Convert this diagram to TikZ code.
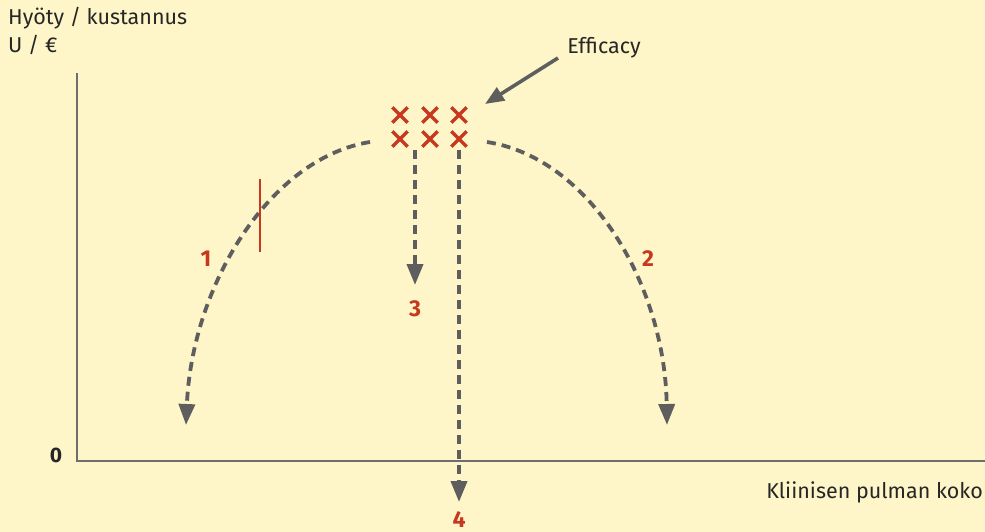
\documentclass[tikz,border=0pt]{standalone}
\usepackage{fontspec}
\setmainfont{Fira Sans}
\usetikzlibrary{arrows.meta,shapes.misc}
\definecolor{bg}{HTML}{FEF6C8}
\definecolor{axisgray}{HTML}{6E6E6E}
\definecolor{dashgray}{HTML}{5E5E5E}
\definecolor{redc}{HTML}{C7391F}
\tikzset{
  axisline/.style={draw=axisgray, line width=2.2pt},
  dasharrow/.style={draw=dashgray, line width=3.8pt, dash pattern=on 9pt off 6pt,
     -{Triangle[length=21pt,width=16pt]}},
  xmark/.style={cross out, draw=redc, line width=3.4pt, minimum size=12pt, inner sep=0pt},
  numlabel/.style={text=redc, font=\bfseries\fontsize{23}{25}\selectfont, inner sep=0pt},
  plain/.style={text=black!85, font=\fontsize{21.5}{24}\selectfont, inner sep=0pt}
}
\begin{document}
\begin{tikzpicture}[x=1pt,y=-1pt]
\fill[bg] (0,0) rectangle (985,532);
\useasboundingbox (0,0) rectangle (985,532);
% axes
\coordinate (ytop) at (77,73);
\coordinate (origin) at (77,461);
\coordinate (xend) at (985,461);
\draw[axisline] (ytop) -- (origin) -- (xend);
% texts
\node[plain, anchor=base west] (ylab1) at (8,25) {Hyöty / kustannus};
\node[plain, anchor=base west] (ylab2) at (8,53) {U / €};
\node[plain, anchor=base east] (xlab) at (983,498) {Kliinisen pulman koko};
\node[plain, font=\bfseries\fontsize{21}{24}\selectfont, anchor=base] (zero) at (56,462) {0};
\node[plain, anchor=base] (eff) at (604,54) {Efficacy};
% efficacy arrow
\coordinate (effstart) at (558,58);
\coordinate (efftip) at (485,104);
\draw[draw=dashgray, line width=3.6pt, -{Triangle[length=19pt,width=15pt]}] (effstart) -- (efftip);
% crosses
\node[xmark] (c11) at (400,115) {};
\node[xmark] (c12) at (430,115) {};
\node[xmark] (c13) at (459,115) {};
\node[xmark] (c21) at (400,139) {};
\node[xmark] (c22) at (430,139) {};
\node[xmark] (c23) at (459,139) {};
% curves
\coordinate (ls) at (370,142);
\coordinate (le) at (186,425);
\coordinate (rs) at (487,142);
\coordinate (re) at (667,425);
\draw[dasharrow] (ls) .. controls (270,158) and (192,285) .. (le);
\draw[dasharrow] (rs) .. controls (590,158) and (665,285) .. (re);
% red tick
\coordinate (tickt) at (260,179);
\coordinate (tickb) at (260,252);
\draw[draw=redc, line width=2.6pt] (tickt) -- (tickb);
% vertical arrows
\coordinate (a3s) at (415,150);
\coordinate (a3e) at (415,285);
\coordinate (a4s) at (459,150);
\coordinate (a4e) at (459,502);
\draw[dasharrow] (a3s) -- (a3e);
\draw[dasharrow] (a4s) -- (a4e);
% labels
\node[numlabel, anchor=base] (n1) at (206,266) {1};
\node[numlabel, anchor=base] (n2) at (648,266) {2};
\node[numlabel, anchor=base] (n3) at (415,316) {3};
\node[numlabel, anchor=base] (n4) at (459,527) {4};
\end{tikzpicture}
\end{document}
